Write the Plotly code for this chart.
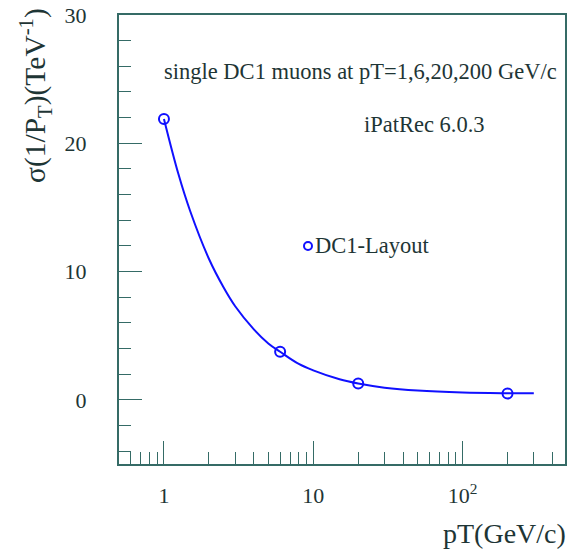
import plotly.graph_objects as go
import math

# measured points
pt_points = [1, 6, 20, 200]
sigma_points = [21.9, 3.75, 1.27, 0.5]

# fitted curve
pt_curve = [1, 1.25, 1.5, 2, 2.5, 3, 4, 5, 6, 8, 10, 15, 20, 30, 50, 100, 200, 300]
sigma_curve = [21.9, 17.6, 14.7, 11.0, 8.8, 7.3, 5.5, 4.4, 3.75, 2.8, 2.3, 1.6, 1.27,
               0.95, 0.72, 0.57, 0.52, 0.51]

x_major = [1, 10, 100]
x_major_text = ["1", "10", "10<sup>2</sup>"]
x_minor = [0.6, 0.7, 0.8, 0.9, 2, 3, 4, 5, 6, 7, 8, 9,
           20, 30, 40, 50, 60, 70, 80, 90, 200, 300, 400]

AX = "#356b66"
TXT = "#1e3535"
BLUE = "#1010ff"
FONT = "Liberation Serif"

fig = go.Figure()
fig.add_trace(go.Scatter(x=pt_curve, y=sigma_curve, mode="lines",
                         line=dict(color=BLUE, width=2, shape="spline"),
                         showlegend=False, hoverinfo="skip"))
fig.add_trace(go.Scatter(x=pt_points, y=sigma_points, mode="markers",
                         marker=dict(symbol="circle-open", size=10, color=BLUE,
                                     line=dict(width=2, color=BLUE)),
                         name="DC1-Layout", showlegend=False))

fig.update_layout(
    width=569, height=555,
    margin=dict(l=119, r=4, t=15, b=91, autoexpand=False),
    paper_bgcolor="white", plot_bgcolor="white",
    font=dict(family=FONT, color=TXT, size=22),
    xaxis=dict(type="log", range=[math.log10(0.5), 2.686],
               tickvals=x_major, ticktext=x_major_text,
               ticks="inside", ticklen=23, tickwidth=1, tickcolor=AX,
               minor=dict(tickvals=x_minor, ticks="inside", ticklen=12,
                          tickwidth=1, tickcolor=AX),
               showgrid=False, zeroline=False, automargin=False,
               showline=True, linecolor=AX, linewidth=2, mirror=True,
               tickfont=dict(size=22, family=FONT, color=TXT),
               ticklabelstandoff=11),
    yaxis=dict(range=[-5, 30], tick0=0, dtick=10,
               ticks="inside", ticklen=23, tickwidth=1, tickcolor=AX,
               minor=dict(dtick=2, tick0=0, ticks="inside", ticklen=12,
                          tickwidth=1, tickcolor=AX),
               showgrid=False, zeroline=False, automargin=False,
               showline=True, linecolor=AX, linewidth=2, mirror=True,
               tickfont=dict(size=22, family=FONT, color=TXT),
               ticklabelstandoff=26),
)

fig.add_annotation(text="single DC1 muons at pT=1,6,20,200 GeV/c",
                   xref="paper", yref="paper", x=(162 - 119) / 446, y=(464 - 72) / 449,
                   xanchor="left", yanchor="middle", showarrow=False,
                   font=dict(size=22.5, family=FONT, color=TXT))
fig.add_annotation(text="iPatRec 6.0.3",
                   xref="paper", yref="paper", x=(362 - 119) / 446, y=(464 - 125) / 449,
                   xanchor="left", yanchor="middle", showarrow=False,
                   font=dict(size=22.5, family=FONT, color=TXT))
# legend entry
fig.add_shape(type="circle", xref="paper", yref="paper",
              xsizemode="pixel", ysizemode="pixel",
              xanchor=(308 - 119) / 446, yanchor=(464 - 246) / 449,
              x0=-4, x1=4, y0=-4, y1=4,
              line=dict(color=BLUE, width=2))
fig.add_annotation(text="DC1-Layout",
                   xref="paper", yref="paper", x=(313 - 119) / 446, y=(464 - 245) / 449,
                   xanchor="left", yanchor="middle", showarrow=False,
                   font=dict(size=22.5, family=FONT, color=TXT))
# axis titles
fig.add_annotation(text="σ(1/P<sub>T</sub>)(TeV<sup>-1</sup>)",
                   xref="paper", yref="paper", x=0, xshift=-84,
                   y=(464 - 96) / 449, xanchor="center", yanchor="middle",
                   textangle=-90, showarrow=False,
                   font=dict(size=29.5, family=FONT, color=TXT))
fig.add_annotation(text="pT(GeV/c)",
                   xref="paper", yref="paper", x=1, xshift=3,
                   y=0, yshift=-(533 - 464), xanchor="right", yanchor="middle",
                   showarrow=False,
                   font=dict(size=28, family=FONT, color=TXT))

fig.write_html("out.html", config={"displayModeBar": False},
               post_script="document.body.style.margin='0';")
